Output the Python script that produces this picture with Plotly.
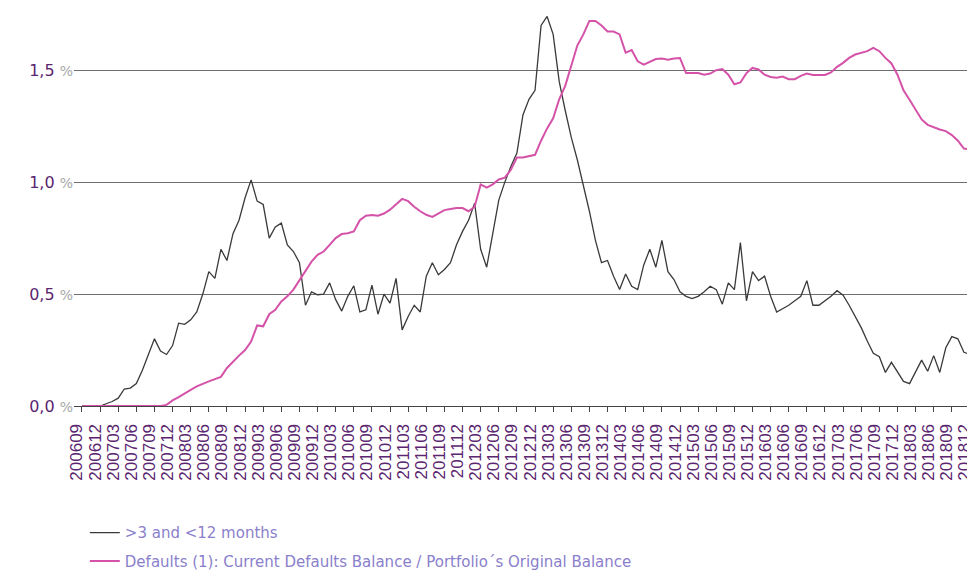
import plotly.graph_objects as go

# Monthly categories 200609 .. 201812
months = []
y, m = 2006, 9
while (y, m) <= (2018, 12):
    months.append(f"{y}{m:02d}")
    m += 1
    if m > 12:
        m = 1
        y += 1

arrears_3_12 = [
    0.0, 0.0, 0.0, 0.0, 0.01, 0.02, 0.035, 0.076, 0.08, 0.10,
    0.16, 0.23, 0.30, 0.245, 0.23, 0.27, 0.37, 0.365, 0.385, 0.42,
    0.50, 0.60, 0.57, 0.70, 0.65, 0.77, 0.83, 0.93, 1.01, 0.915,
    0.90, 0.75, 0.80, 0.817, 0.72, 0.69, 0.64, 0.45, 0.51, 0.497,
    0.50, 0.55, 0.475, 0.424, 0.49, 0.537, 0.42, 0.43, 0.54, 0.41,
    0.50, 0.46, 0.57, 0.34, 0.40, 0.45, 0.42, 0.58, 0.64, 0.586,
    0.61, 0.64, 0.72, 0.78, 0.83, 0.906, 0.70, 0.62, 0.77, 0.92,
    1.00, 1.07, 1.13, 1.30, 1.37, 1.41, 1.70, 1.74, 1.66, 1.45,
    1.32, 1.20, 1.10, 0.99, 0.87, 0.74, 0.64, 0.65, 0.58, 0.52,
    0.59, 0.535, 0.52, 0.63, 0.70, 0.62, 0.74, 0.60, 0.565, 0.51,
    0.49, 0.48, 0.49, 0.51, 0.535, 0.52, 0.455, 0.55, 0.52, 0.73,
    0.47, 0.60, 0.56, 0.58, 0.49, 0.42, 0.435, 0.45, 0.47, 0.49,
    0.56, 0.45, 0.45, 0.47, 0.49, 0.515, 0.495, 0.45, 0.40, 0.35,
    0.29, 0.235, 0.22, 0.15, 0.195, 0.15, 0.11, 0.10, 0.15, 0.205,
    0.155, 0.225, 0.15, 0.26, 0.31, 0.30, 0.24, 0.23,
]

defaults_ratio = [
    0, 0, 0, 0, 0, 0, 0, 0, 0, 0,
    0, 0, 0, 0, 0.005, 0.025, 0.04, 0.058, 0.072, 0.088,
    0.10, 0.11, 0.12, 0.13, 0.17, 0.20, 0.225, 0.25, 0.288, 0.36,
    0.356, 0.41, 0.43, 0.467, 0.49, 0.52, 0.56, 0.60, 0.645, 0.675,
    0.69, 0.72, 0.75, 0.768, 0.772, 0.78, 0.83, 0.85, 0.853, 0.85,
    0.86, 0.877, 0.90, 0.925, 0.915, 0.89, 0.87, 0.854, 0.845, 0.86,
    0.875, 0.88, 0.884, 0.884, 0.87, 0.89, 0.99, 0.975, 0.99, 1.012,
    1.02, 1.055, 1.11, 1.11, 1.115, 1.122, 1.185, 1.24, 1.285, 1.37,
    1.43, 1.52, 1.61, 1.66, 1.72, 1.72, 1.70, 1.673, 1.673, 1.66,
    1.578, 1.59, 1.54, 1.525, 1.538, 1.55, 1.552, 1.547, 1.552, 1.554,
    1.487, 1.487, 1.487, 1.48, 1.485, 1.50, 1.505, 1.48, 1.437, 1.445,
    1.487, 1.51, 1.503, 1.48, 1.47, 1.466, 1.472, 1.46, 1.46, 1.475,
    1.485, 1.479, 1.479, 1.479, 1.49, 1.515, 1.533, 1.555, 1.57, 1.576,
    1.585, 1.60, 1.585, 1.555, 1.53, 1.48, 1.41, 1.368, 1.325, 1.28,
    1.256, 1.245, 1.235, 1.228, 1.21, 1.185, 1.15, 1.147,
]

series_names = [
    "&gt;3 and &lt;12 months",
    "Defaults (1): Current Defaults Balance / Portfolio´s Original Balance",
]

y_tickvals = [0, 0.5, 1.0, 1.5]
y_ticklabels = ["0,0", "0,5", "1,0", "1,5"]

x_idx = list(range(len(months)))
tick_idx = x_idx[::3]
tick_text = [months[i] for i in tick_idx]

fig = go.Figure()
fig.add_trace(go.Scatter(
    x=x_idx, y=arrears_3_12, mode="lines", name=series_names[0],
    line=dict(color="#3a3a3a", width=1.3), legendgroup="a",
))
fig.add_trace(go.Scatter(
    x=x_idx, y=defaults_ratio, mode="lines", name=series_names[1],
    line=dict(color="#d452a8", width=2), legendgroup="b",
))

fig.update_layout(
    width=975, height=575,
    margin=dict(l=66, r=7, t=4, b=177),
    paper_bgcolor="white", plot_bgcolor="white",
    font=dict(family="DejaVu Sans", size=15, color="#5b2670"),
    showlegend=True,
    legend=dict(
        x=0.012, y=-0.28, xanchor="left", yanchor="top",
        orientation="v", traceorder="grouped", tracegroupgap=6,
        font=dict(family="DejaVu Sans", size=15, color="#8a80cc"),
        bgcolor="rgba(0,0,0,0)",
    ),
)

fig.update_xaxes(
    range=[-1.32, 148.0],
    tickmode="array", tickvals=tick_idx, ticktext=tick_text,
    tickangle=-90,
    tickfont=dict(family="Liberation Sans", size=17, color="#5b2670"),
    ticks="outside", ticklen=5, tickcolor="#444", tickwidth=1,
    ticklabelstandoff=5, ticklabelshift=-5, ticklabeloverflow="allow",
    showline=True, linecolor="#444", linewidth=1.3,
    showgrid=False, zeroline=False,
)
fig.update_yaxes(
    range=[0, 1.76],
    tickmode="array", tickvals=y_tickvals,
    ticktext=[f"{t} <span style='color:#a8a8a8;font-size:14px'>%</span>" for t in y_ticklabels],
    tickfont=dict(family="DejaVu Sans", size=16, color="#5b2670"),
    showgrid=True, gridcolor="#6e6e6e", gridwidth=1,
    zeroline=False, showline=False, ticks="",
)

fig.write_html("out.html")
